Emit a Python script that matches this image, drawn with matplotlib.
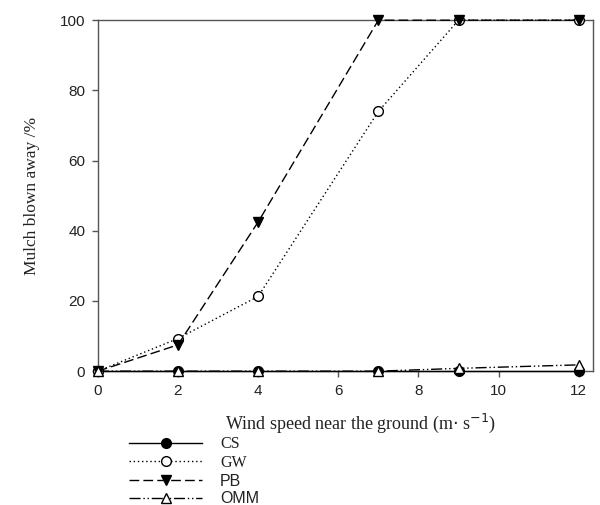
import matplotlib
matplotlib.use("Agg")
import matplotlib.pyplot as plt

wind = [0, 2, 4, 7, 9, 12]
cs = [0, 0, 0, 0, 0, 0]
gw = [0, 9.3, 21.3, 74, 100, 100]
pb = [0, 7.5, 42.5, 100, 100, 100]
omm = [0, 0, 0, 0, 0.8, 1.8]
labels = ["CS", "GW", "PB", "OMM"]
xticks = [0, 2, 4, 6, 8, 10, 12]
yticks = [0, 20, 40, 60, 80, 100]

fig = plt.figure(figsize=(6, 5.05), dpi=100)
ax = fig.add_axes([0.163, 0.265, 0.825, 0.695])

ms = 7
h_cs, = ax.plot(wind, cs, color="black", lw=1, ls="-", marker="o", ms=ms,
                mfc="black", mec="black", clip_on=False, zorder=3)
h_gw, = ax.plot(wind, gw, color="black", lw=1, ls=(0, (1, 2)), marker="o", ms=ms,
                mfc="white", mec="black", clip_on=False, zorder=4)
h_pb, = ax.plot(wind, pb, color="black", lw=1, ls=(0, (7, 3)), marker="v", ms=ms,
                mfc="black", mec="black", clip_on=False, zorder=5)
h_omm, = ax.plot(wind, omm, color="black", lw=1, ls=(0, (8, 2, 1, 2, 1, 2)), marker="^",
                 ms=ms, mfc="white", mec="black", clip_on=False, zorder=6)

ax.set_xlim(0, 12.35)
ax.set_ylim(0, 100)
ax.set_xticks(xticks)
ax.set_yticks(yticks)
for s in ax.spines.values():
    s.set_color("#555555")
    s.set_linewidth(1)
ax.tick_params(direction="out", length=4, width=1, color="#555555",
               labelsize=11, pad=5)
for t in ax.get_xticklabels() + ax.get_yticklabels():
    t.set_fontfamily("Liberation Sans")
    t.set_color("#222222")

ax.set_ylabel("Mulch blown away /%", fontfamily="Liberation Serif", fontsize=12.5,
              labelpad=14, color="#222222")
fig.text(0.375, 0.162, "Wind speed near the ground (m$\\cdot$ s$^{-1}$)",
         fontfamily="Liberation Serif", fontsize=13, color="#222222",
         ha="left", va="center")

leg = fig.legend([h_cs, h_gw, h_pb, h_omm], labels, loc="upper left",
                 bbox_to_anchor=(0.215, 0.136), frameon=False, fontsize=11.5,
                 handlelength=4.6, handletextpad=1.1, labelspacing=0.17,
                 borderpad=0, borderaxespad=0, numpoints=1)
fams = ["Liberation Serif", "Liberation Serif", "Liberation Sans", "Liberation Sans"]
for t, f in zip(leg.get_texts(), fams):
    t.set_fontfamily(f)
    t.set_color("#222222")

fig.savefig("out.png", dpi=100)
